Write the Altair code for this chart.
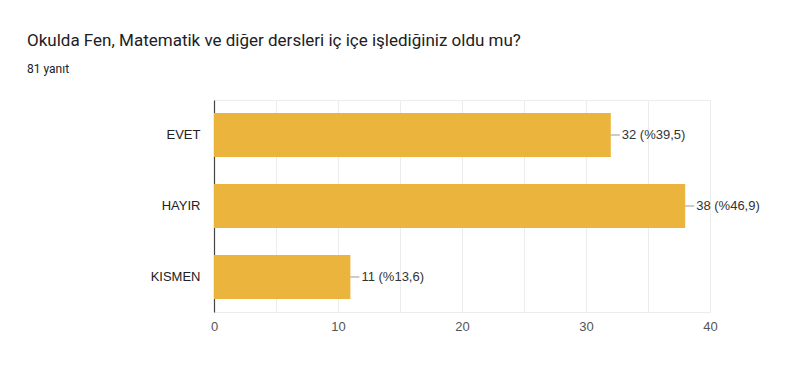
import altair as alt
import pandas as pd

categories = ["EVET", "HAYIR", "KISMEN"]
counts = [32, 38, 11]
percents = ["39,5", "46,9", "13,6"]

df = pd.DataFrame({"cat": categories, "count": counts, "pct": percents})
df["label"] = df["count"].astype(str) + " (%" + df["pct"] + ")"

y_enc = alt.Y("cat:N", sort=categories, title=None,
              scale=alt.Scale(paddingInner=0.38, paddingOuter=0.183),
              axis=alt.Axis(ticks=False, domainColor="#444", domainWidth=1.2,
                            labelPadding=14, labelFontSize=13, labelColor="#222",
                            labelFont="Liberation Sans"))
x_enc = alt.X("count:Q", title=None,
              scale=alt.Scale(domain=[0, 40], nice=False),
              axis=alt.Axis(values=list(range(0, 41, 5)), ticks=False, domain=False,
                            gridColor="#ececec", labelExpr="datum.value % 10 == 0 ? datum.label : ''",
                            labelFlush=False, labelBound=False,
                            labelPadding=8, labelFontSize=13, labelColor="#555",
                            labelFont="Liberation Sans"))

base = alt.Chart(df)
bars = base.mark_bar(color="#EBB43D").encode(x=x_enc, y=y_enc)
rules = base.mark_rule(color="#999", x2Offset=9).encode(
    x="count:Q", x2="count:Q", y=alt.Y("cat:N", sort=categories))
texts = base.mark_text(align="left", baseline="middle", dx=11, fontSize=13,
                       color="#333", font="Liberation Sans").encode(
    x="count:Q", y=alt.Y("cat:N", sort=categories), text="label:N")

chart = alt.layer(bars, rules, texts).properties(
    width=496, height=212,
    autosize=alt.AutoSizeParams(type="none"),
    padding={"left": 206, "top": 92, "right": 82, "bottom": 55},
    background="white",
    title=alt.TitleParams(
        text="Okulda Fen, Matematik ve diğer dersleri iç içe işlediğiniz oldu mu?",
        subtitle="81 yanıt",
        anchor="start", frame="group", dx=-187, offset=24,
        font="Roboto", fontSize=17, fontWeight="normal", color="#202124",
        subtitleFont="Roboto", subtitleFontSize=12, subtitleColor="#202124",
        subtitlePadding=14),
).configure_view(stroke="#ececec")

chart.save("out.html", embed_options={"renderer": "svg", "actions": False})
